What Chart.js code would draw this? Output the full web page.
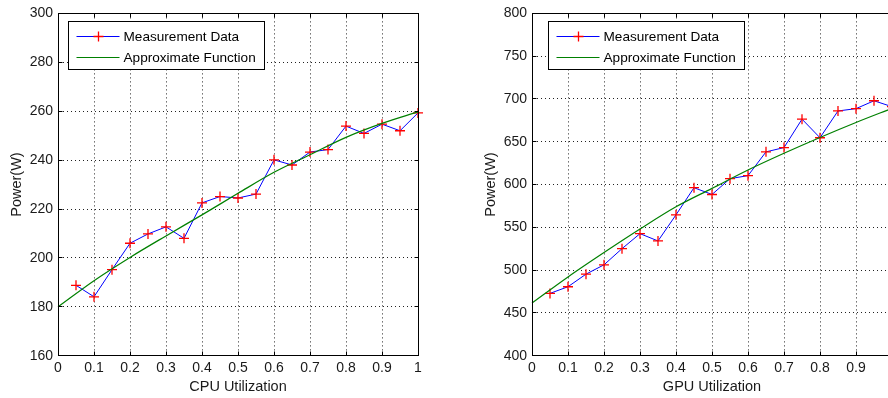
<!DOCTYPE html>
<html>
<head>
<meta charset="utf-8">
<script src="https://cdn.jsdelivr.net/npm/chart.js@4/dist/chart.umd.min.js"></script>
<style>
html, body { margin:0; padding:0; background:#fff; overflow:hidden; width:888px; height:398px; }
.wrap { position:absolute; top:0; width:444px; height:398px; }
canvas { display:block; }
</style>
</head>
<body>
<div class="wrap" style="left:0px"><canvas id="cpuChart" width="444" height="398"></canvas></div>
<div class="wrap" style="left:474px"><canvas id="gpuChart" width="444" height="398"></canvas></div>
<script>
// ---- data ----
const utilization = [0.05,0.10,0.15,0.20,0.25,0.30,0.35,0.40,0.45,0.50,0.55,0.60,0.65,0.70,0.75,0.80,0.85,0.90,0.95,1.00];
const cpuMeasured = [188.8,184.1,195.2,206.0,209.8,212.7,208.0,222.5,225.1,224.5,226.1,240.1,238.0,243.3,244.3,253.9,250.9,254.7,252.0,259.3];
const gpuMeasured = [472.8,480.6,495.3,506.2,525.1,542.6,534.1,564.6,596.3,588.4,606.9,610.4,638.2,643.2,676.4,654.7,686.0,688.7,697.9,691.0];
const fitUtilization = [0,0.1,0.2,0.3,0.4,0.5,0.6,0.7,0.8,0.9,1.0];
const cpuFit = [180.0,190.7,200.2,209.0,217.6,226.4,235.0,242.2,249.3,255.0,259.7];
const gpuFit = [461.5,492.0,520.5,548.0,574.0,595.5,617.0,636.5,655.0,672.5,689.0];
const xTickValues = [0,0.1,0.2,0.3,0.4,0.5,0.6,0.7,0.8,0.9,1];
const xTickLabels = ['0','0.1','0.2','0.3','0.4','0.5','0.6','0.7','0.8','0.9','1'];
const cpuYTicks = [160,180,200,220,240,260,280,300];
const gpuYTicks = [400,450,500,550,600,650,700,750,800];
const seriesNames = ['Measurement Data','Approximate Function'];
const cpuXTitle = 'CPU Utilization';
const gpuXTitle = 'GPU Utilization';
const yTitle = 'Power(W)';

const FONT = '"Liberation Sans", Arial, Helvetica, sans-serif';

function align(p) { return Math.round(p - 0.5) + 0.5; }

const framePlugin = {
  id: 'matlabFrame',
  afterDatasetsDraw(chart) {
    const ctx = chart.ctx, a = chart.chartArea;
    const xs = chart.scales.x, ys = chart.scales.y;
    const L = align(a.left), R = align(a.right), T = align(a.top), B = align(a.bottom);
    ctx.save();
    ctx.strokeStyle = '#000';
    ctx.lineWidth = 1;
    ctx.setLineDash([]);
    ctx.beginPath();
    const tl = 4;
    xs.ticks.forEach(t => {
      const px = align(xs.getPixelForValue(t.value));
      ctx.moveTo(px, B); ctx.lineTo(px, B - tl);
      ctx.moveTo(px, T); ctx.lineTo(px, T + tl);
    });
    ys.ticks.forEach(t => {
      const py = align(ys.getPixelForValue(t.value));
      ctx.moveTo(L, py); ctx.lineTo(L + tl, py);
      ctx.moveTo(R, py); ctx.lineTo(R - tl, py);
    });
    ctx.stroke();
    ctx.strokeRect(L, T, R - L, B - T);
    ctx.restore();
  },
  afterDraw(chart) {
    const o = chart.options.plugins.matlabFrame || {};
    const ctx = chart.ctx, a = chart.chartArea;
    const x0 = Math.round(a.left + o.dx) + 0.5, y0 = Math.round(a.top + o.dy) + 0.5;
    const w = 196, h = 48;
    ctx.save();
    ctx.setLineDash([]);
    ctx.fillStyle = '#fff';
    ctx.fillRect(x0, y0, w, h);
    ctx.strokeStyle = '#000';
    ctx.lineWidth = 1;
    ctx.strokeRect(x0, y0, w, h);
    ctx.font = '13.6px ' + FONT;
    ctx.textBaseline = 'middle';
    ctx.textAlign = 'left';
    chart.data.datasets.forEach((ds, i) => {
      const cy = Math.round(y0 + 14 + i * 21) + 0.5;
      ctx.strokeStyle = ds.borderColor;
      ctx.lineWidth = ds.borderWidth;
      ctx.beginPath();
      ctx.moveTo(x0 + 8, cy); ctx.lineTo(x0 + 51, cy);
      ctx.stroke();
      if (ds.pointRadius > 0) {
        const cx = Math.round(x0 + 29.5) + 0.5, r = ds.pointRadius;
        ctx.strokeStyle = ds.pointBorderColor;
        ctx.lineWidth = ds.pointBorderWidth;
        ctx.beginPath();
        ctx.moveTo(cx - r, cy); ctx.lineTo(cx + r, cy);
        ctx.moveTo(cx, cy - r); ctx.lineTo(cx, cy + r);
        ctx.stroke();
      }
      ctx.fillStyle = '#000';
      ctx.fillText(ds.label, x0 + 55, cy + 0.5);
    });
    ctx.restore();
  }
};

function makeChart(id, measured, fit, yTicks, xTitle, legendDx) {
  return new Chart(document.getElementById(id), {
    type: 'line',
    data: {
      datasets: [
        {
          label: seriesNames[0],
          data: utilization.map((u, i) => ({ x: u, y: measured[i] })),
          borderColor: '#0000ff',
          borderWidth: 1,
          pointStyle: 'cross',
          pointRadius: 5,
          pointHoverRadius: 5,
          pointBorderColor: '#ff0000',
          pointBackgroundColor: '#ff0000',
          pointBorderWidth: 1.3,
          tension: 0,
          clip: false,
          order: 1
        },
        {
          label: seriesNames[1],
          data: fitUtilization.map((u, i) => ({ x: u, y: fit[i] })),
          borderColor: '#008000',
          borderWidth: 1.2,
          pointRadius: 0,
          cubicInterpolationMode: 'monotone',
          clip: false,
          order: 0
        }
      ]
    },
    options: {
      responsive: false,
      animation: false,
      devicePixelRatio: 1,
      events: [],
      layout: { padding: { top: 12, right: 26, left: 0, bottom: 0 } },
      plugins: {
        legend: { display: false },
        tooltip: { enabled: false },
        matlabFrame: { dx: legendDx, dy: 7.5 }
      },
      scales: {
        x: {
          type: 'linear',
          min: 0, max: 1,
          afterBuildTicks: s => { s.ticks = xTickValues.map(v => ({ value: v })); },
          afterFit: s => { s.height = 42.3; },
          ticks: {
            callback: (v, i) => xTickLabels[i],
            font: { family: FONT, size: 14 },
            color: '#1a1a1a',
            padding: 4,
            maxRotation: 0,
            autoSkip: false
          },
          grid: { color: '#222', lineWidth: 1, drawTicks: false },
          border: { color: '#000', width: 1, dash: [1, 3] },
          title: {
            display: true, text: xTitle,
            font: { family: FONT, size: 14.5 },
            color: '#1a1a1a',
            padding: { top: 0, bottom: 2 }
          }
        },
        y: {
          type: 'linear',
          min: yTicks[0], max: yTicks[yTicks.length - 1],
          afterBuildTicks: s => { s.ticks = yTicks.map(v => ({ value: v })); },
          afterFit: s => { s.width = 58; },
          ticks: {
            callback: (v, i) => String(yTicks[i]),
            font: { family: FONT, size: 14 },
            color: '#1a1a1a',
            padding: 5,
            autoSkip: false
          },
          grid: { color: '#222', lineWidth: 1, drawTicks: false },
          border: { color: '#000', width: 1, dash: [1, 3] },
          title: {
            display: true, text: yTitle,
            font: { family: FONT, size: 14.5 },
            color: '#1a1a1a',
            padding: { top: 8, bottom: 0 }
          }
        }
      }
    },
    plugins: [framePlugin]
  });
}

makeChart('cpuChart', cpuMeasured, cpuFit, cpuYTicks, cpuXTitle, 10);
makeChart('gpuChart', gpuMeasured, gpuFit, gpuYTicks, gpuXTitle, 16);
</script>
</body>
</html>
